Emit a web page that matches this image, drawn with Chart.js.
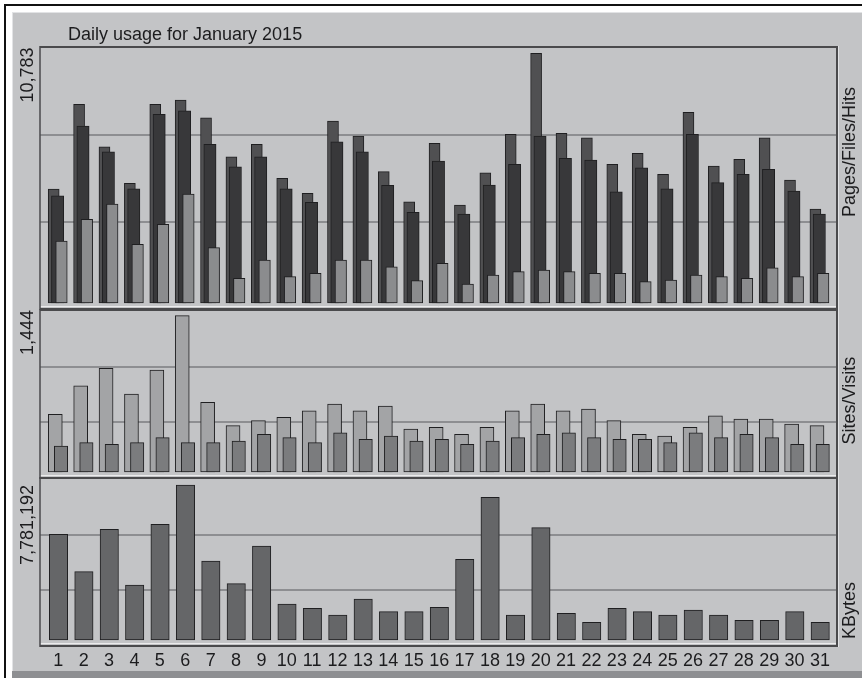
<!DOCTYPE html>
<html><head><meta charset="utf-8">
<script src="https://cdn.jsdelivr.net/npm/chart.js@4.4.1/dist/chart.umd.min.js"></script>
<style>
html,body{margin:0;padding:0;background:#fff;width:862px;height:678px;overflow:hidden;}
#frame{position:absolute;left:4px;top:4px;width:858px;height:674px;border-top:2px solid #111;border-left:2px solid #111;box-sizing:border-box;}
#bg{position:absolute;left:12px;top:12px;width:850px;height:666px;background:#c3c4c6;border-top:1px solid #e2e3e5;border-left:1px solid #e2e3e5;box-sizing:border-box;}
#strip{position:absolute;left:12px;top:671px;width:850px;height:7px;background:#8e8f92;}
canvas{position:absolute;left:0;top:0;}
</style></head><body>
<div id="frame"></div><div id="bg"></div><div id="strip"></div>
<canvas id="c1" width="862" height="678"></canvas>
<canvas id="c2" width="862" height="678"></canvas>
<canvas id="c3" width="862" height="678"></canvas>
<script>
// ---- data ----
const days = ['1','2','3','4','5','6','7','8','9','10','11','12','13','14','15','16','17','18','19','20','21','22','23','24','25','26','27','28','29','30','31'];
const hits   = [4923,8580,6749,5169,8580,8766,8001,6317,6853,5385,4737,7859,7211,5670,4374,6896,4232,5626,7285,10783,7328,7138,5989,6464,5557,8235,5916,6205,7138,5311,4059];
const files  = [4633,7643,6533,4935,8148,8303,6853,5885,6317,4935,4348,6965,6533,5082,3916,6132,3843,5095,5989,7211,6248,6175,4806,5842,4935,7285,5195,5557,5773,4836,3843];
const pages  = [2677,3614,4275,2535,3398,4707,2388,1067,1857,1136,1282,1857,1857,1567,963,1714,820,1209,1352,1425,1352,1282,1282,920,993,1209,1136,1067,1524,1136,1282];
const sites  = [533,797,958,721,942,1444,644,428,474,505,566,628,566,610,397,413,348,413,564,628,564,582,474,348,333,413,520,490,490,443,428];
const visits = [240,271,256,271,317,271,271,286,348,317,271,363,302,333,286,302,256,286,317,348,363,317,302,302,271,363,317,348,317,256,256];
const kbytes = [5306412,3428905,5557318,2761040,5808271,7781192,3965880,2826317,4718903,1807236,1591374,1255022,2058241,1420688,1420688,1641573,4051196,7163810,1255022,5637962,1340415,888560,1591374,1420688,1255022,1506030,1255022,988961,988961,1420688,888560];
const chartTitle = 'Daily usage for January 2015';
const panelNames = ['Pages/Files/Hits','Sites/Visits','KBytes'];

// ---- style ----
const FONT = '"Liberation Sans", Arial, Helvetica, sans-serif';
const TXT = '#1c1c1e';
const FRAME_L = 40, FRAME_R = 837;
const fmt = v => v.toLocaleString('en-US');

function vtext(ctx, text, x, y, align){
  ctx.save(); ctx.translate(x, y); ctx.rotate(-Math.PI/2);
  ctx.textAlign = align; ctx.textBaseline = 'alphabetic';
  ctx.fillText(text, 0, 0); ctx.restore();
}

const panelPlugin = {
  id: 'panel',
  beforeDatasetsDraw(chart, args, o){
    const ctx = chart.ctx, ca = chart.chartArea;
    const top = ca.top, base = ca.bottom, bot = base + 6;
    ctx.save();
    ctx.strokeStyle = '#8d8e91'; ctx.lineWidth = 2;
    [1/3, 2/3].forEach(f => {
      const y = Math.round(top + (bot - top) * f);
      ctx.beginPath(); ctx.moveTo(FRAME_L, y); ctx.lineTo(FRAME_R, y); ctx.stroke();
    });
    ctx.strokeStyle = '#ebebec'; ctx.lineWidth = 1;
    ctx.beginPath(); ctx.moveTo(FRAME_L, base + 3.5); ctx.lineTo(FRAME_R, base + 3.5); ctx.stroke();
    ctx.strokeStyle = '#4a4a4c'; ctx.lineWidth = 2;
    ctx.beginPath(); ctx.moveTo(FRAME_L, top - 1); ctx.lineTo(FRAME_R, top - 1); ctx.stroke();
    ctx.beginPath(); ctx.moveTo(FRAME_L, base + 6); ctx.lineTo(FRAME_R + 1, base + 6); ctx.stroke();
    ctx.lineWidth = 1.5;
    ctx.beginPath(); ctx.moveTo(FRAME_L, top - 2); ctx.lineTo(FRAME_L, base + 7); ctx.stroke();
    ctx.lineWidth = 2;
    ctx.beginPath(); ctx.moveTo(FRAME_R, top - 2); ctx.lineTo(FRAME_R, base + 7); ctx.stroke();
    ctx.strokeStyle = '#e2e3e5'; ctx.lineWidth = 1;
    ctx.beginPath(); ctx.moveTo(FRAME_R + 1.5, top - 2); ctx.lineTo(FRAME_R + 1.5, base + 7); ctx.stroke();
    ctx.restore();
  },
  beforeDatasetDraw(chart, args){
    const dx = chart.data.datasets[args.index].dx || 0;
    chart.ctx.save(); chart.ctx.translate(dx, 0);
  },
  afterDatasetDraw(chart){ chart.ctx.restore(); },
  afterDraw(chart, args, o){
    const ctx = chart.ctx;
    ctx.save();
    ctx.fillStyle = TXT; ctx.font = '18px ' + FONT;
    if (o.title) { ctx.textAlign = 'left'; ctx.textBaseline = 'alphabetic'; ctx.fillText(o.title, 68, 40); }
    vtext(ctx, o.maxText, 33, o.maxTop, 'right');
    vtext(ctx, o.name, 855, o.nameStart, 'left');
    ctx.restore();
  }
};

function bar(label, data, color, thickness, dx){
  return { label, data, backgroundColor: color, borderColor: '#1f1f21', borderWidth: 1,
           borderSkipped: false, grouped: false, barThickness: thickness, dx, clip: false };
}

function makePanel(id, datasets, yMax, pad, showX, pluginOpts){
  return new Chart(document.getElementById(id), {
    type: 'bar',
    data: { labels: days, datasets },
    options: {
      responsive: false, animation: false,
      layout: { padding: pad },
      plugins: { legend: { display: false }, tooltip: { enabled: false }, panel: pluginOpts },
      scales: {
        x: { type: 'category', offset: true, display: showX,
             grid: { display: false, drawTicks: false }, border: { display: false },
             ticks: { color: TXT, font: { family: FONT, size: 18 }, padding: 10, maxRotation: 0, minRotation: 0, autoSkip: false },
             afterFit: s => { if (showX) s.height = 30; } },
        y: { display: false, min: 0, max: yMax }
      }
    },
    plugins: [panelPlugin]
  });
}

const PL = 45.6, PR = 862 - 832.7;

makePanel('c1', [
  bar('Pages', pages, '#8b8c8e', 11.5, 3.2),
  bar('Files', files, '#38383a', 12.3, -0.7),
  bar('Hits',  hits,  '#505052', 11, -4.6)
], Math.max(...hits) * 255 / 249.7, { top: 48, bottom: 678 - 303, left: PL, right: PR }, false,
{ title: chartTitle, maxText: fmt(Math.max(...hits)), maxTop: 47.5, name: panelNames[0], nameStart: 217 });

makePanel('c2', [
  bar('Visits', visits, '#7b7c7e', 13.4, 2.7),
  bar('Sites',  sites,  '#a3a4a6', 14, -3)
], Math.max(...sites) * 161 / 156.3, { top: 311, bottom: 678 - 472, left: PL, right: PR }, false,
{ maxText: fmt(Math.max(...sites)), maxTop: 310, name: panelNames[1], nameStart: 444.5 });

makePanel('c3', [
  bar('KBytes', kbytes, '#656668', 18.4, 0.2)
], Math.max(...kbytes) * 161 / 155, { top: 479, bottom: 8, left: PL, right: PR }, true,
{ maxText: fmt(Math.max(...kbytes)), maxTop: 485, name: panelNames[2], nameStart: 639 });
</script>
</body></html>
